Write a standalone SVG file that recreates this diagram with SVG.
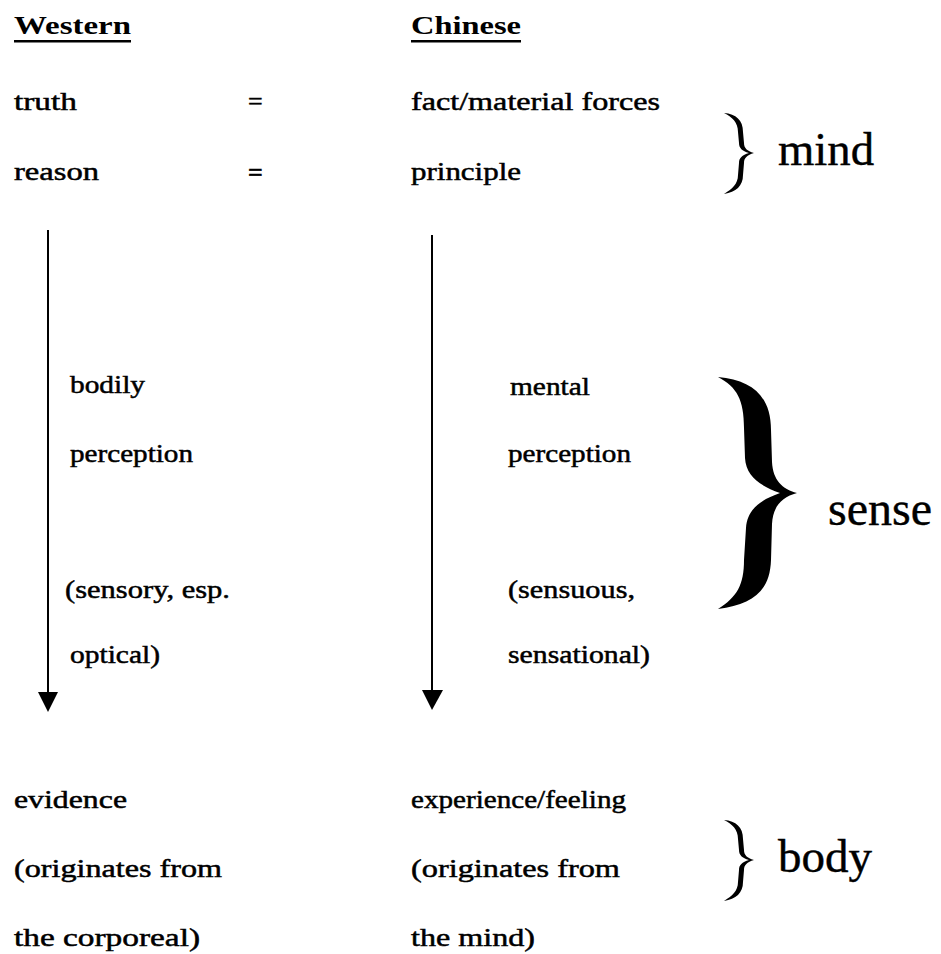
<svg xmlns="http://www.w3.org/2000/svg" width="941" height="954" viewBox="0 0 941 954">
<style>
.t{font-family:"Liberation Serif","Times New Roman",serif;font-size:26px;fill:#000;stroke:#000;stroke-width:0.5}
.h{font-family:"Liberation Serif","Times New Roman",serif;font-size:25px;font-weight:bold;fill:#000}
.big{font-family:"Liberation Serif","Times New Roman",serif;font-size:46px;fill:#000;stroke:#000;stroke-width:0.4}
.ln{stroke:#000;stroke-width:2;fill:none}
</style>
<defs>
<path id="smallBrace" d="M724 113 C736 114,743 120,743 132 L744 143 C744 148,747 151,754 153 C747 155,744 158,744 163 L743 175 C743 186,736 192,724 194 C732 189,738 184,738 175 L739 163 C739 158,742 155,749 153 C742 151,739 148,739 143 L738 132 C738 122,732 117,724 113 Z"/>
</defs>
<rect width="941" height="954" fill="#fff"/>
<g id="header-western">
<text class="h" x="14" y="34" textLength="117" lengthAdjust="spacingAndGlyphs">Western</text>
<rect x="14" y="40" width="117" height="2.5" fill="#000"/>
</g>
<g id="header-chinese">
<text class="h" x="411" y="34" textLength="110" lengthAdjust="spacingAndGlyphs">Chinese</text>
<rect x="411" y="40" width="110" height="2.5" fill="#000"/>
</g>
<g id="row-truth">
<text class="t" x="14" y="110" textLength="63" lengthAdjust="spacingAndGlyphs">truth</text>
<text class="t" x="248" y="110">=</text>
<text class="t" x="411" y="110" textLength="249" lengthAdjust="spacingAndGlyphs">fact/material forces</text>
</g>
<g id="row-reason">
<text class="t" x="14" y="180" textLength="85" lengthAdjust="spacingAndGlyphs">reason</text>
<text class="t" x="248" y="181" style="font-weight:bold">=</text>
<text class="t" x="411" y="180" textLength="110" lengthAdjust="spacingAndGlyphs">principle</text>
</g>
<g id="brace-mind">
<use href="#smallBrace"/>
<text class="big" x="778" y="165" textLength="96" lengthAdjust="spacingAndGlyphs">mind</text>
</g>
<g id="western-perception">
<text class="t" x="70" y="393" textLength="75" lengthAdjust="spacingAndGlyphs">bodily</text>
<text class="t" x="70" y="462" textLength="123" lengthAdjust="spacingAndGlyphs">perception</text>
<text class="t" x="65" y="598" textLength="165" lengthAdjust="spacingAndGlyphs">(sensory, esp.</text>
<text class="t" x="70" y="663" textLength="90" lengthAdjust="spacingAndGlyphs">optical)</text>
</g>
<g id="chinese-perception">
<text class="t" x="510" y="395" textLength="80" lengthAdjust="spacingAndGlyphs">mental</text>
<text class="t" x="508" y="462" textLength="123" lengthAdjust="spacingAndGlyphs">perception</text>
<text class="t" x="508" y="598" textLength="127" lengthAdjust="spacingAndGlyphs">(sensuous,</text>
<text class="t" x="508" y="663" textLength="142" lengthAdjust="spacingAndGlyphs">sensational)</text>
</g>
<g id="brace-sense">
<path d="M718 377 C752 380,771 396,771 430 L772 462 C773 480,782 489,797 493 C782 497,773 506,772 524 L771 560 C770 592,752 604,718 609 C737 597,744 585,744 560 L746 528 C747 510,760 500,780 493 C760 486,746 476,745 458 L744 428 C744 400,737 387,718 377 Z" fill="#000"/>
<text class="big" x="828" y="525" style="font-size:48px" textLength="104" lengthAdjust="spacingAndGlyphs">sense</text>
</g>
<g id="row-evidence">
<text class="t" x="14" y="808" textLength="113" lengthAdjust="spacingAndGlyphs">evidence</text>
<text class="t" x="14" y="877" textLength="208" lengthAdjust="spacingAndGlyphs">(originates from</text>
<text class="t" x="14" y="946" textLength="186" lengthAdjust="spacingAndGlyphs">the corporeal)</text>
</g>
<g id="row-experience">
<text class="t" x="411" y="808" textLength="215" lengthAdjust="spacingAndGlyphs">experience/feeling</text>
<text class="t" x="411" y="877" textLength="209" lengthAdjust="spacingAndGlyphs">(originates from</text>
<text class="t" x="411" y="946" textLength="124" lengthAdjust="spacingAndGlyphs">the mind)</text>
</g>
<g id="brace-body">
<use href="#smallBrace" transform="translate(0,707)"/>
<text class="big" x="778" y="872" textLength="94" lengthAdjust="spacingAndGlyphs">body</text>
</g>
<g id="connectors">
<line class="ln" x1="48" y1="230" x2="48" y2="696"/>
<polygon points="38,692 58,692 48,712" fill="#000"/>
<line class="ln" x1="432" y1="235" x2="432" y2="694"/>
<polygon points="422,690 443,690 432,710" fill="#000"/>
</g>
</svg>
